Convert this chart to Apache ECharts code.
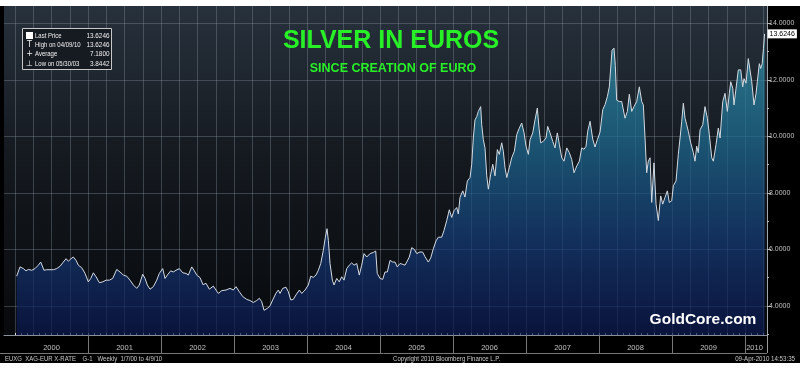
<!DOCTYPE html>
<html><head><meta charset="utf-8">
<script src="https://cdn.jsdelivr.net/npm/echarts@6/dist/echarts.min.js"></script>
<style>html,body{margin:0;padding:0;background:#fff}#c{width:800px;height:372px}</style>
</head><body><div id="c"></div><script>
// Weekly silver price in EUR, time as decimal year
const timeYears = [
2000.023,2000.068,2000.114,2000.151,2000.182,2000.229,2000.274,2000.319,2000.352,2000.379,2000.397,2000.434,2000.479,2000.525,2000.571,2000.616,2000.662,2000.699,2000.730,2000.767,2000.799,2000.836,2000.867,2000.914,2000.959,
2001.004,2001.037,2001.073,2001.110,2001.155,2001.201,2001.247,2001.292,2001.338,2001.393,2001.438,2001.484,2001.530,2001.575,2001.621,2001.667,2001.703,2001.749,2001.781,2001.812,2001.849,2001.895,2001.941,2001.977,
2002.023,2002.055,2002.086,2002.133,2002.168,2002.205,2002.251,2002.297,2002.342,2002.374,2002.421,2002.452,2002.489,2002.534,2002.575,2002.616,2002.662,2002.716,2002.785,2002.832,2002.890,2002.945,2002.990,
2003.027,2003.073,2003.119,2003.174,2003.219,2003.264,2003.311,2003.347,2003.379,2003.411,2003.462,2003.493,2003.530,2003.575,2003.607,2003.630,2003.667,2003.712,2003.744,2003.777,2003.812,2003.849,2003.895,2003.927,2003.973,
2004.018,2004.051,2004.086,2004.123,2004.155,2004.188,2004.223,2004.251,2004.274,2004.292,2004.315,2004.347,2004.370,2004.407,2004.442,2004.475,2004.507,2004.544,2004.579,2004.612,2004.644,2004.681,2004.716,2004.749,2004.781,2004.818,2004.863,2004.908,2004.941,2004.962,
2005.000,2005.037,2005.068,2005.100,2005.137,2005.174,2005.205,2005.237,2005.274,2005.311,2005.342,2005.374,2005.401,2005.434,2005.470,2005.503,2005.548,2005.585,2005.616,2005.662,2005.695,2005.730,2005.767,2005.799,2005.845,2005.877,2005.914,2005.949,2005.982,
2006.014,2006.051,2006.073,2006.096,2006.133,2006.164,2006.196,2006.233,2006.256,2006.278,2006.301,2006.325,2006.347,2006.379,2006.393,2006.415,2006.438,2006.462,2006.484,2006.516,2006.544,2006.575,2006.607,2006.634,2006.667,2006.689,2006.712,2006.736,2006.771,2006.804,2006.840,2006.873,2006.908,2006.941,2006.973,
2007.000,2007.032,2007.055,2007.092,2007.123,2007.155,2007.178,2007.201,2007.237,2007.274,2007.297,2007.329,2007.366,2007.397,2007.429,2007.456,2007.489,2007.521,2007.558,2007.593,2007.626,2007.658,2007.695,2007.730,2007.763,2007.795,2007.822,2007.845,2007.877,2007.914,2007.945,2007.977,
2008.014,2008.051,2008.082,2008.114,2008.141,2008.160,2008.178,2008.205,2008.223,2008.242,2008.278,2008.311,2008.356,2008.388,2008.415,2008.448,2008.479,2008.516,2008.552,2008.585,2008.607,2008.630,2008.653,2008.675,2008.699,2008.722,2008.753,2008.781,2008.812,2008.845,2008.873,2008.904,2008.936,2008.963,2008.996,
2009.018,2009.055,2009.086,2009.110,2009.133,2009.155,2009.178,2009.201,2009.223,2009.256,2009.292,2009.315,2009.338,2009.360,2009.384,2009.421,2009.452,2009.484,2009.511,2009.544,2009.566,2009.603,2009.634,2009.658,2009.695,2009.726,2009.758,2009.785,2009.804,2009.832,2009.849,2009.877,2009.908,2009.941,2009.968,2009.986,
2010.014,2010.045,2010.068,2010.092,2010.123,2010.151,2010.168,2010.196,2010.215,2010.235,2010.252,2010.268
];
const prices = [
5.05,5.38,5.32,5.24,5.29,5.26,5.32,5.44,5.55,5.50,5.26,5.28,5.28,5.28,5.32,5.40,5.55,5.67,5.58,5.67,5.73,5.61,5.44,5.35,5.15,
4.85,4.97,5.17,5.03,4.82,4.85,4.91,4.91,4.97,5.29,5.20,5.09,5.05,4.91,4.74,4.62,4.74,5.12,4.97,4.74,4.59,4.68,4.91,5.15,
5.32,4.97,5.09,5.24,5.20,5.26,5.32,5.17,5.15,5.09,5.38,5.26,5.09,5.00,4.75,4.80,4.59,4.70,4.44,4.54,4.56,4.62,4.56,
4.68,4.50,4.33,4.23,4.19,4.12,4.19,4.27,4.15,3.8442,3.92,4.00,4.21,4.45,4.56,4.44,4.62,4.66,4.50,4.21,4.23,4.39,4.56,4.44,4.56,
4.74,5.05,5.01,5.09,5.26,5.50,5.96,6.43,6.73,6.32,5.50,4.91,4.74,4.97,4.85,5.03,4.91,5.32,5.44,5.52,5.44,5.50,5.09,5.44,5.85,5.73,5.85,5.89,5.94,5.15,
4.97,4.94,5.20,5.20,5.61,5.55,5.55,5.38,5.50,5.47,5.44,5.59,5.73,6.06,6.00,5.85,5.91,5.90,5.74,5.55,5.70,6.02,6.30,6.43,6.43,6.67,7.02,7.40,7.13,
7.37,7.48,7.25,7.84,8.07,7.85,8.42,8.54,9.01,9.94,10.58,10.70,10.88,11.05,10.41,9.88,9.59,8.60,8.13,8.66,9.01,8.60,9.53,9.36,9.77,9.47,8.89,8.54,8.89,9.24,9.47,10.06,10.29,10.47,10.12,
9.65,9.36,9.88,10.12,10.58,11.00,10.29,9.77,9.82,9.94,10.35,10.12,9.82,9.59,10.12,9.72,9.24,9.12,9.59,9.42,9.18,8.71,8.95,9.12,9.59,9.54,9.65,10.18,10.53,9.90,9.62,9.88,
10.15,10.94,11.12,11.40,11.75,11.70,13.04,13.12,12.51,11.28,11.23,11.23,10.64,10.88,11.49,10.88,11.05,11.23,11.75,11.23,11.11,9.94,8.71,9.12,9.24,7.66,9.06,7.60,7.02,7.89,7.60,7.84,8.07,7.66,7.72,
8.25,8.42,9.36,9.94,10.53,11.17,10.64,10.41,10.18,9.77,9.42,9.12,9.65,9.42,10.23,10.41,11.05,10.64,10.06,9.24,9.12,9.71,10.29,9.94,11.23,11.52,10.88,11.52,11.93,11.70,11.11,11.70,12.35,12.35,11.75,12.04,
11.88,12.75,12.69,11.93,11.11,11.52,11.93,12.57,12.40,12.57,13.10,13.6246
];
const yearLabels = ['2000','2001','2002','2003','2004','2005','2006','2007','2008','2009','2010'];
const yearLabelPos = [2000.5,2001.5,2002.5,2003.5,2004.5,2005.5,2006.5,2007.5,2008.5,2009.5,2010.13];
const yearStarts = [2001,2002,2003,2004,2005,2006,2007,2008,2009,2010];
const yTickValues = [4,6,8,10,12,14];
const yMinorValues = [3,5,7,9,11,13];
const legendLabels = ['Last Price','High on 04/09/10','Average','Low on 05/30/03'];
const legendValues = ['13.6246','13.6246','7.1800','3.8442'];
const legendIcons = ['','T','+','\u22A5'];
const titleText = 'SILVER IN EUROS';
const subtitleText = 'SINCE CREATION OF EURO';
const footerLeft = 'EUXG  XAG-EUR X-RATE    G-1   Weekly  1/7/00 to 4/9/10';
const footerMid = 'Copyright 2010 Bloomberg Finance L.P.';
const footerRight = '09-Apr-2010 14:53:35';

const X_MIN = 1999.849, X_MAX = 2010.301, Y_MIN = 2.97, Y_MAX = 14.61;
const quarters = []; for (let q = 2000; q <= 2010.3; q += 0.25) quarters.push(+q.toFixed(2));
const months = []; for (let m = 0; m <= 123; m++) months.push(2000 + m / 12);

const sans = "'Liberation Sans',Arial,sans-serif";
const chart = echarts.init(document.getElementById('c'), null, {renderer: 'canvas'});

const graphics = [
  {type:'rect', shape:{x:0,y:0,width:800,height:6}, style:{fill:'#fff'}, z:100},
  {type:'rect', shape:{x:0,y:363,width:800,height:9}, style:{fill:'#fff'}, z:100},
  {type:'line', shape:{x1:0,y1:353.5,x2:767,y2:353.5}, style:{stroke:'#777',lineWidth:1}, z:50},
  {type:'line', shape:{x1:767.5,y1:335,x2:767.5,y2:353}, style:{stroke:'#999',lineWidth:1}, z:50},
  {type:'rect', shape:{x:22.5,y:28.5,width:89,height:41}, style:{fill:'#161b22',stroke:'#c8c8c8',lineWidth:1}, z:60},
  {type:'rect', shape:{x:26,y:32,width:7,height:7}, style:{fill:'#fff'}, z:61},
  {type:'text', x:391, y:41, style:{text:titleText, fill:'#27f027', font:"bold 25px "+sans, textAlign:'center', textVerticalAlign:'middle'}, z:60},
  {type:'text', x:393, y:69, style:{text:subtitleText, fill:'#27f027', font:"bold 12.5px "+sans, textAlign:'center', textVerticalAlign:'middle'}, z:60},
  {type:'text', x:703, y:320, style:{text:'GoldCore.com', fill:'#ffffff', font:"bold 15.5px "+sans, textAlign:'center', textVerticalAlign:'middle'}, z:60},
  {type:'text', x:5, y:358.5, scaleX:0.8, style:{text:footerLeft, fill:'#c8c8c8', font:'7.5px '+sans, textAlign:'left', textVerticalAlign:'middle'}, z:60},
  {type:'text', x:393, y:358.5, scaleX:0.81, style:{text:footerMid, fill:'#c8c8c8', font:'7.5px '+sans, textAlign:'left', textVerticalAlign:'middle'}, z:60},
  {type:'text', x:795, y:358.5, scaleX:0.82, style:{text:footerRight, fill:'#c8c8c8', font:'7.5px '+sans, textAlign:'right', textVerticalAlign:'middle'}, z:60}
];
const rowY = [35.7, 45, 54.3, 63.5];
legendLabels.forEach((lab, i) => {
  graphics.push({type:'text', x:35, y:rowY[i], scaleX:0.8, style:{text:lab, fill:'#f0f0f0', font:'7.5px '+sans, textAlign:'left', textVerticalAlign:'middle'}, z:61});
  graphics.push({type:'text', x:109.5, y:rowY[i], scaleX:0.85, style:{text:legendValues[i], fill:'#f0f0f0', font:'7.5px '+sans, textAlign:'right', textVerticalAlign:'middle'}, z:61});
  if (legendIcons[i]) graphics.push({type:'text', x:29.5, y:rowY[i], style:{text:legendIcons[i], fill:'#f0f0f0', font:"8px 'DejaVu Sans',sans-serif", textAlign:'center', textVerticalAlign:'middle'}, z:61});
});

const option = {
  backgroundColor: '#000',
  animation: false,
  grid: {left:4, right:33, top:6, bottom:37, show:true, borderWidth:0,
    backgroundColor: new echarts.graphic.LinearGradient(0,0,0,1,[
      {offset:0,color:'#27313c'},{offset:0.45,color:'#151a20'},{offset:1,color:'#07090c'}])},
  xAxis: [
    {type:'value', min:X_MIN, max:X_MAX, axisLine:{show:false}, axisLabel:{show:false},
     axisTick:{show:false, customValues:quarters},
     splitLine:{show:true, lineStyle:{color:'rgba(150,162,175,0.32)', width:1}}},
    {type:'value', min:X_MIN, max:X_MAX, position:'bottom', axisLine:{show:true, lineStyle:{color:'#8a9099', width:1}},
     axisLabel:{show:false}, splitLine:{show:false},
     axisTick:{show:true, inside:true, length:2, customValues:months, lineStyle:{color:'#e0e0e0'}}},
    {type:'value', min:X_MIN, max:X_MAX, position:'bottom', axisLine:{show:false}, splitLine:{show:false},
     axisTick:{show:true, length:18, customValues:yearStarts, lineStyle:{color:'#777'}},
     axisLabel:{show:true, customValues:yearLabelPos, margin:9, color:'#c0c0c0', fontSize:7.5, fontFamily:sans,
       formatter: v => yearLabels[yearLabelPos.indexOf(v)] || ''}}
  ],
  yAxis: [
    {type:'value', position:'right', min:Y_MIN, max:Y_MAX,
     axisLine:{show:true, lineStyle:{color:'#a0a6ad', width:1}},
     axisTick:{show:true, length:4, customValues:yTickValues, lineStyle:{color:'#bbb'}},
     axisLabel:{show:true, customValues:yTickValues, margin:2, color:'#c0c0c0', fontSize:7, fontFamily:sans,
       formatter: v => v.toFixed(4)},
     splitLine:{show:true, lineStyle:{color:'rgba(150,162,175,0.32)', width:1}}},
    {type:'value', position:'right', min:Y_MIN, max:Y_MAX, axisLine:{show:false}, axisLabel:{show:false}, splitLine:{show:false},
     axisTick:{show:true, length:2, customValues:yMinorValues, lineStyle:{color:'#bbb'}}}
  ],
  series: [{
    type:'line', xAxisIndex:0, yAxisIndex:0, showSymbol:false, symbol:'none',
    data: timeYears.map((t, i) => [t, prices[i]]),
    lineStyle:{color:'#d3dae2', width:1},
    areaStyle:{origin:'start', color: new echarts.graphic.LinearGradient(0,0,0,1,[
      {offset:0,color:'#3299b0'},{offset:0.35,color:'#1d6e95'},{offset:0.7,color:'#143a78'},{offset:1,color:'#0b1850'}])},
    endLabel:{show:true, formatter: () => legendValues[0], backgroundColor:'#fff', color:'#000', fontSize:7,
      fontFamily:sans, padding:[1,2], distance:3}
  }],
  graphic: graphics
};
chart.setOption(option);
</script></body></html>
